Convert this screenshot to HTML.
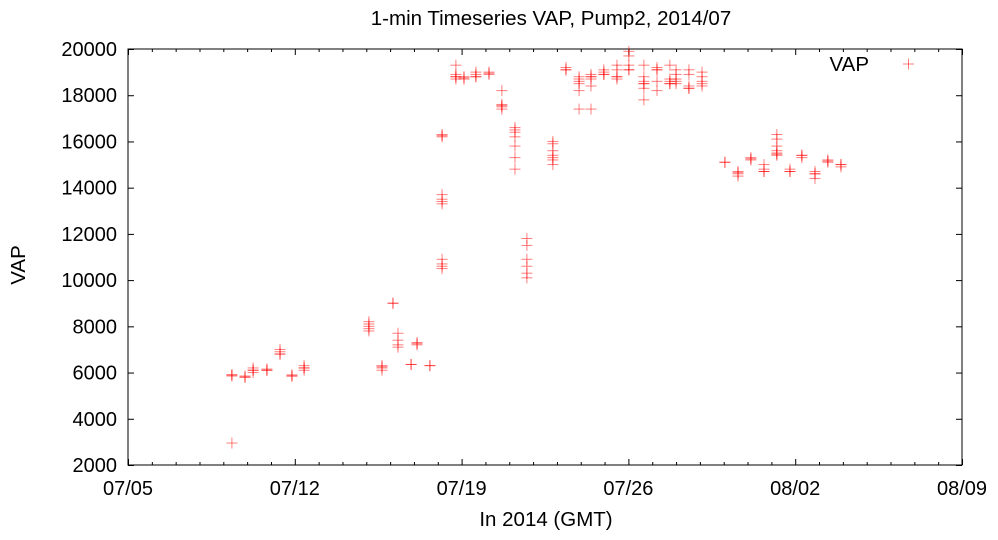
<!DOCTYPE html>
<html><head><meta charset="utf-8"><style>
html,body{margin:0;padding:0;background:#fff;}
svg{display:block;font-family:"Liberation Sans",sans-serif;}
</style></head><body>
<svg id="chart" width="998" height="540">
<text x="551" y="25" text-anchor="middle" font-size="20.5">1-min Timeseries VAP, Pump2, 2014/07</text>
<text x="25" y="265" text-anchor="middle" font-size="20.5" transform="rotate(-90 25 265)">VAP</text>
<text x="546" y="526" text-anchor="middle" font-size="20.5">In 2014 (GMT)</text>
<g id="axes"></g>
<g id="marks"></g>
<g>
<text x="869" y="71" text-anchor="end" font-size="20.5">VAP</text>
<g stroke="#f00" stroke-opacity="0.5"><line x1="903" y1="64" x2="914" y2="64"/><line x1="908.5" y1="58.5" x2="908.5" y2="69.5"/></g>
</g>
</svg>
<script>
// days since 2014-07-05 00:00 GMT
const clusterDays=[4.36,4.91,5.25,5.83,6.38,6.88,7.39,10.11,10.66,11.12,11.33,11.88,12.13,12.67,13.18,13.76,14.10,14.60,15.15,15.69,16.24,16.74,17.83,18.38,18.93,19.43,19.97,20.52,21.02,21.65,22.20,22.74,23.00,23.54,24.09,25.05,25.60,26.14,26.69,27.23,27.78,28.28,28.83,29.37,29.92];
const clusterValues=[
[5900,5850,5900,2950],[5800,5850,5800],[6100,6000,6200,6100],[6100,6150,6100],[6800,7000,6900,6800],[5850,5900,5850],[6200,6300,6100,6200],
[8200,8000,7800,7900,8100],[6200,6300,6100,6250],[9000,9000],[7700,7400,7200,7100],[6350,6350],[7200,7300,7250],[6300,6300],
[10500,10700,10900,10600,13300,13500,13700,13400,16200,16300,16250],
[18800,18700,19300,18900,18800],[18700,18800,18750],[18800,18900,19000,18800],[19000,18900,18950],[17500,17600,18200,17400,17550],
[16600,16500,16200,15800,15300,14800,16400],[11800,11500,10900,10600,10300,10100],[15200,15400,15600,15900,16000,15000,15300],
[19100,19200,19100],[18700,18500,18200,17400,18800,18600],[18800,18900,18400,17400,18700,18800],[18900,19100,19000,18900],
[18800,19100,19300,18700,18800],[19100,19300,19700,19900,19100],[18600,18500,18300,19300,17800,18800,18500],
[19100,19200,18600,18200,19100],[18500,18700,18600,19300,18500],[18500,18700,18900,19100,18600],[18300,18400,18900,19100,18300],
[18400,18600,18800,19000,18500],[15100,15100],[14600,14700,14500,14650],[15200,15300,15250],[14700,14800,15000,14700],
[15500,15600,15800,16100,16300,15400,15450],[14700,14800,14700],[15400,15300,15400],[14600,14400,14700,14600],[15100,15200,15150],[15000,14900,15000]];
const xTickLabels=["07/05","07/12","07/19","07/26","08/02","08/09"];
const yTickValues=[2000,4000,6000,8000,10000,12000,14000,16000,18000,20000];

const L=128,R=962,T=49,B=465,NS="http://www.w3.org/2000/svg";
const xs=d=>L+(R-L)*d/35;
const ys=v=>B-(B-T)*(v-2000)/18000;
function mk(tag,at,parent){const e=document.createElementNS(NS,tag);for(const k in at)e.setAttribute(k,at[k]);parent.appendChild(e);return e;}
const ax=document.getElementById('axes');
const frame=mk('rect',{x:L,y:T,width:R-L,height:B-T,fill:'none',stroke:'#000','stroke-width':1},ax);


for(let d=0;d<=35;d++){const x=xs(d)+0.5,len=d%7===0?6:3;
 const t1=mk('line',{x1:x,y1:B,x2:x,y2:B-len,stroke:'#000'},ax);
 
 
 const t2=mk('line',{x1:x,y1:T,x2:x,y2:T+len,stroke:'#000'},ax);
 
 }
xTickLabels.forEach((s,i)=>{const t=mk('text',{x:xs(i*7),y:B+30,'text-anchor':'middle','font-size':20},ax);t.textContent=s;
 
 });
yTickValues.forEach(v=>{const y=ys(v)+0.5;
 const a=mk('line',{x1:L,y1:y,x2:L+6,y2:y,stroke:'#000'},ax);
 
 
 const b=mk('line',{x1:R,y1:y,x2:R-6,y2:y,stroke:'#000'},ax);
 
 
 const t=mk('text',{x:L-11,y:ys(v)+7,'text-anchor':'end','font-size':20},ax);t.textContent=v;
 
 });
const mg=document.getElementById('marks');
clusterDays.forEach((d,i)=>{clusterValues[i].forEach(v=>{const x=xs(d),y=ys(v);
 const g=mk('g',{stroke:'#f00','stroke-opacity':0.5,'stroke-width':1},mg);
 
 
 mk('line',{x1:x-5.5,y1:y,x2:x+5.5,y2:y},g);mk('line',{x1:x,y1:y-5.5,x2:x,y2:y+5.5},g);});});
</script>
</body></html>
